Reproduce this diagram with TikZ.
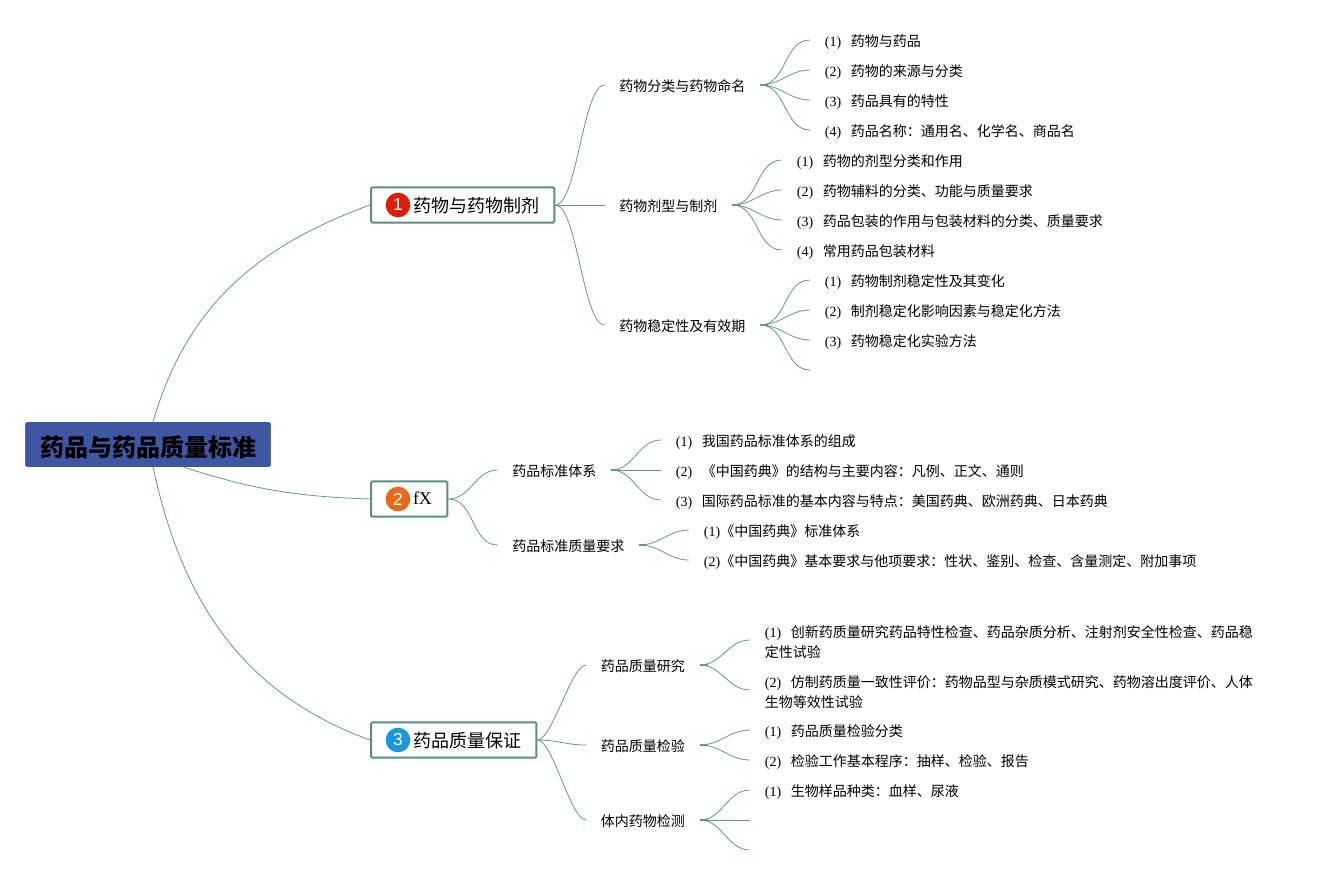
\documentclass[tikz,border=0pt]{standalone}
\usepackage{fontspec}
\setmainfont{Noto Sans CJK SC}
\newfontfamily\ltn{Liberation Serif}
\newfontfamily\badgefont{Liberation Sans}
\usetikzlibrary{calc}
\definecolor{linkgreen}{HTML}{5F9A8B}
\definecolor{boxgreen}{HTML}{5A8F83}
\definecolor{rootblue}{HTML}{3F57A3}
\definecolor{badgered}{HTML}{DD1F0A}
\definecolor{badgeorange}{HTML}{E56A1C}
\definecolor{badgeblue}{HTML}{1B97DC}
\newcommand{\itemno}[1]{\makebox[19.5pt][l]{\ltn (#1)}}
\tikzset{
  rootbox/.style={draw=rootblue, fill=rootblue, rounded corners=1.5pt, minimum width=184pt, minimum height=33pt, inner sep=0pt, text height=19pt, text depth=1.5pt, font=\fontsize{18pt}{22pt}\selectfont\bfseries},
  topicbox/.style={draw=boxgreen, line width=1.5pt, rounded corners=1pt, anchor=west, minimum height=26.5pt, inner xsep=11.6pt, inner ysep=0pt, text height=12pt, text depth=1.5pt, font=\fontsize{13.5pt}{16pt}\selectfont},
  badge/.style={circle, minimum size=18.5pt, inner sep=0pt, text=white, font=\badgefont\fontsize{13pt}{15pt}\selectfont},
  subtopic/.style={anchor=west, inner xsep=11pt, inner ysep=0pt, text height=11.5pt, text depth=2pt, font=\fontsize{10.5pt}{15pt}\selectfont},
  wrapped/.style={anchor=west, inner xsep=11pt, inner ysep=0pt, align=left, font=\fontsize{10.5pt}{15pt}\selectfont},
  link/.style={draw=linkgreen, line width=.6pt},
  stem/.style={draw=linkgreen, line width=1.3pt},
  tall/.style={out=0, in=180, looseness=.42}
}
\begin{document}
\begin{tikzpicture}[x=.75pt, y=-.75pt]
  \useasboundingbox (0,0) rectangle (1325,875);
  % root and the three topics
  \node[rootbox] (root) at (148,444.5) {药品与药品质量标准};
  \node[topicbox] (drug) at (370,205) {\hspace{19.9pt}药物与药物制剂};
  \node[topicbox, text height=8pt, text depth=.5pt] (fx) at (370,499) {\hspace{19.9pt}{\ltn fX}};
  \node[topicbox] (quality) at (370,740) {\hspace{19.9pt}药品质量保证};
  \node[badge, fill=badgered] (badgeA) at ($(drug.west)+(28,0)$) {1};
  \node[badge, fill=badgeorange] (badgeB) at ($(fx.west)+(28,0)$) {2};
  \node[badge, fill=badgeblue] (badgeC) at ($(quality.west)+(28,0)$) {3};
  % first topic
  \node[subtopic] (naming) at (604.5,85) {药物分类与药物命名};
  \node[subtopic] (forms) at (604.5,205) {药物剂型与制剂};
  \node[subtopic] (stable) at (604.5,325) {药物稳定性及有效期};
  \node[subtopic] (nameA) at (810,40) {\itemno{1}药物与药品};
  \node[subtopic] (nameB) at (810,70) {\itemno{2}药物的来源与分类};
  \node[subtopic] (nameC) at (810,100) {\itemno{3}药品具有的特性};
  \node[subtopic] (nameD) at (810,130) {\itemno{4}药品名称：通用名、化学名、商品名};
  \node[subtopic] (formA) at (782,160) {\itemno{1}药物的剂型分类和作用};
  \node[subtopic] (formB) at (782,190) {\itemno{2}药物辅料的分类、功能与质量要求};
  \node[subtopic] (formC) at (782,220) {\itemno{3}药品包装的作用与包装材料的分类、质量要求};
  \node[subtopic] (formD) at (782,250) {\itemno{4}常用药品包装材料};
  \node[subtopic] (stableA) at (810,280) {\itemno{1}药物制剂稳定性及其变化};
  \node[subtopic] (stableB) at (810,310) {\itemno{2}制剂稳定化影响因素与稳定化方法};
  \node[subtopic] (stableC) at (810,340) {\itemno{3}药物稳定化实验方法};
  \coordinate (stableD) at (810,370);
  % second topic
  \node[subtopic] (system) at (497.5,470) {药品标准体系};
  \node[subtopic] (demand) at (497.5,545) {药品标准质量要求};
  \node[subtopic] (systemA) at (661,440) {\itemno{1}我国药品标准体系的组成};
  \node[subtopic] (systemB) at (661,470) {\itemno{2}《中国药典》的结构与主要内容：凡例、正文、通则};
  \node[subtopic] (systemC) at (661,500) {\itemno{3}国际药品标准的基本内容与特点：美国药典、欧洲药典、日本药典};
  \node[subtopic] (demandA) at (689,530) {{\ltn (1)}《中国药典》标准体系};
  \node[subtopic] (demandB) at (689,560) {{\ltn (2)}《中国药典》基本要求与他项要求：性状、鉴别、检查、含量测定、附加事项};
  % third topic
  \node[subtopic] (research) at (586,665) {药品质量研究};
  \node[subtopic] (testing) at (586,745) {药品质量检验};
  \node[subtopic] (vivo) at (586,820) {体内药物检测};
  \node[wrapped] (researchA) at (750,640) {\rule{0pt}{12pt}\itemno{1}创新药质量研究药品特性检查、药品杂质分析、注射剂安全性检查、药品稳\\定性试验};
  \node[wrapped] (researchB) at (750,690) {\rule{0pt}{12pt}\itemno{2}仿制药质量一致性评价：药物品型与杂质模式研究、药物溶出度评价、人体\\生物等效性试验};
  \node[subtopic] (testingA) at (750,730) {\itemno{1}药品质量检验分类};
  \node[subtopic] (testingB) at (750,760) {\itemno{2}检验工作基本程序：抽样、检验、报告};
  \node[subtopic] (vivoA) at (750,790) {\itemno{1}生物样品种类：血样、尿液};
  \coordinate (vivoB) at (750,820);
  \coordinate (vivoC) at (750,850);
  % main branches
  \draw[link] ([xshift=3.75pt]root.north) to[out=74, in=200] (drug.west);
  \draw[link] ([xshift=26pt]root.south) to[out=-18, in=178] (fx.west);
  \draw[link] ([xshift=3.75pt]root.south) to[out=-78, in=160] (quality.west);
  % branches of the topics
  \draw[link] (drug.east) to[tall] (naming.west);
  \draw[link] (drug.east) -- (forms.west);
  \draw[link] (drug.east) to[tall] (stable.west);
  \draw[link] (fx.east) to[out=0, in=180] (system.west);
  \draw[link] (fx.east) to[out=0, in=180] (demand.west);
  \draw[link] (quality.east) to[tall] (research.west);
  \draw[link] (quality.east) to[out=0, in=180] (testing.west);
  \draw[link] (quality.east) to[tall] (vivo.west);
  % leaves
  \draw[stem] (naming.east) -- +(8,0);
  \draw[link] (naming.east) to[out=0, in=180] (nameA.west);
  \draw[link] (naming.east) to[out=0, in=180] (nameB.west);
  \draw[link] (naming.east) to[out=0, in=180] (nameC.west);
  \draw[link] (naming.east) to[out=0, in=180] (nameD.west);
  \draw[stem] (forms.east) -- +(8,0);
  \draw[link] (forms.east) to[out=0, in=180] (formA.west);
  \draw[link] (forms.east) to[out=0, in=180] (formB.west);
  \draw[link] (forms.east) to[out=0, in=180] (formC.west);
  \draw[link] (forms.east) to[out=0, in=180] (formD.west);
  \draw[stem] (stable.east) -- +(8,0);
  \draw[link] (stable.east) to[out=0, in=180] (stableA.west);
  \draw[link] (stable.east) to[out=0, in=180] (stableB.west);
  \draw[link] (stable.east) to[out=0, in=180] (stableC.west);
  \draw[link] (stable.east) to[out=0, in=180] (stableD);
  \draw[stem] (system.east) -- +(8,0);
  \draw[link] (system.east) to[out=0, in=180] (systemA.west);
  \draw[link] (system.east) -- (systemB.west);
  \draw[link] (system.east) to[out=0, in=180] (systemC.west);
  \draw[stem] (demand.east) -- +(8,0);
  \draw[link] (demand.east) to[out=0, in=180] (demandA.west);
  \draw[link] (demand.east) to[out=0, in=180] (demandB.west);
  \draw[stem] (research.east) -- +(8,0);
  \draw[link] (research.east) to[out=0, in=180] (researchA.west);
  \draw[link] (research.east) to[out=0, in=180] (researchB.west);
  \draw[stem] (testing.east) -- +(8,0);
  \draw[link] (testing.east) to[out=0, in=180] (testingA.west);
  \draw[link] (testing.east) to[out=0, in=180] (testingB.west);
  \draw[stem] (vivo.east) -- +(8,0);
  \draw[link] (vivo.east) to[out=0, in=180] (vivoA.west);
  \draw[link] (vivo.east) -- (vivoB);
  \draw[link] (vivo.east) to[out=0, in=180] (vivoC);
\end{tikzpicture}
\end{document}
